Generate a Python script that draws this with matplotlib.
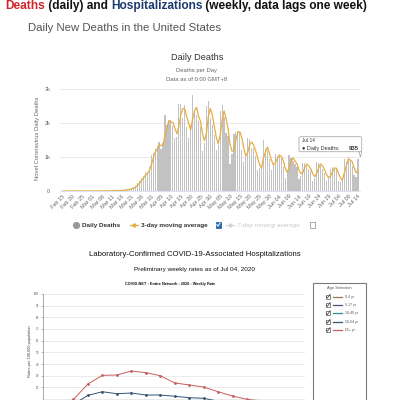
import matplotlib
matplotlib.use('Agg')
import matplotlib.pyplot as plt
import numpy as np
import pandas as pd
from matplotlib.patches import Rectangle, FancyBboxPatch

plt.rcParams['font.family'] = ['Liberation Sans', 'DejaVu Sans']

# ---------------- data ----------------
death_dates = pd.date_range('2020-02-15', '2020-07-14')
deaths_feb = [0] * 14 + [1]
deaths_mar = [1, 4, 1, 4, 1, 2, 3, 4, 4, 6, 8, 7, 11, 10, 12, 23, 26, 38, 53, 48,
              76, 117, 144, 240, 290, 380, 450, 560, 520, 700, 1050]
deaths_apr = [1120, 1250, 1320, 1450, 1250, 1400, 2221, 1954, 2045, 2082,
              1919, 1546, 1585, 2556, 2568, 2154, 2526, 1893, 1563, 1935,
              2811, 2342, 2236, 2055, 1871, 1162, 1401, 2496, 2633, 2161]
deaths_may = [1938, 1637, 1194, 1341, 2367, 2519, 2183, 1707, 1630, 793,
              1100, 1673, 1743, 1763, 1720, 1217, 849, 1009, 1547, 1528,
              1254, 1276, 1035, 622, 686, 717, 1500, 1221, 1175, 933, 629]
deaths_jun = [759, 1085, 1043, 1048, 975, 692, 377, 578, 1069, 969,
              896, 789, 720, 358, 446, 837, 820, 728, 651, 587,
              300, 381, 845, 813, 740, 633, 519, 301, 368, 640]
deaths_jul = [700, 680, 640, 280, 260, 380, 950, 860, 990, 880, 730, 460, 410, 935]
daily_deaths = deaths_feb + deaths_mar + deaths_apr + deaths_may + deaths_jun + deaths_jul

death_tick_labels = ['Feb 15', 'Feb 20', 'Feb 25', 'Mar 01', 'Mar 06', 'Mar 11', 'Mar 16',
                     'Mar 21', 'Mar 26', 'Mar 31', 'Apr 05', 'Apr 10', 'Apr 15', 'Apr 20',
                     'Apr 25', 'Apr 30', 'May 05', 'May 10', 'May 15', 'May 20', 'May 25',
                     'May 30', 'Jun 04', 'Jun 09', 'Jun 14', 'Jun 19', 'Jun 24', 'Jun 29',
                     'Jul 04', 'Jul 09', 'Jul 14']
death_yticks = [0, 1000, 2000, 3000]
death_ytick_labels = ['0', '1k', '2k', '3k']

weeks = list(range(10, 28))
rate_0_4 = [0.1, 0.3, 0.5, 0.7, 0.8, 0.7, 0.6, 0.6, 0.6, 0.5, 0.5, 0.5, 0.5, 0.6, 0.6, 0.7, 0.8, 0.7]
rate_5_17 = [0.0, 0.1, 0.1, 0.2, 0.2, 0.2, 0.2, 0.2, 0.2, 0.2, 0.2, 0.2, 0.2, 0.2, 0.3, 0.3, 0.3, 0.3]
rate_18_49 = [0.1, 0.7, 2.0, 4.3, 5.1, 4.8, 4.8, 4.4, 4.3, 3.9, 3.6, 3.5, 3.2, 3.0, 3.0, 3.1, 3.3, 3.0]
rate_50_64 = [0.2, 1.8, 5.5, 13.2, 16.3, 14.6, 15.2, 13.5, 13.5, 12.4, 11.2, 10.7, 8.2, 6.8, 5.5, 5.0, 4.8, 4.2]
rate_65 = [0.4, 3.2, 9.8, 22.9, 30.3, 30.6, 34.0, 32.6, 30.0, 23.8, 22.1, 20.3, 16.3, 12.6, 9.8, 8.5, 7.5, 6.0]
age_labels = ['0-4 yr', '5-17 yr', '18-49 yr', '50-64 yr', '65+ yr']
age_colors = ['#9a7b4f', '#5b4d6e', '#2f8c8c', '#34536f', '#c65f5f']
rate_grid = list(range(10, 101, 10))
rate_labeled = list(range(20, 101, 10))

# ---------------- figure ----------------
W, H = 397, 400
fig = plt.figure(figsize=(W / 100, H / 100), dpi=100)
fig.patch.set_facecolor('white')


def ax_rect(l, t, r, b):
    return [l / W, 1 - b / H, (r - l) / W, (b - t) / H]


# ---- Daily deaths chart ----
ax1 = fig.add_axes(ax_rect(60, 89, 360, 191))
xd = np.arange(len(daily_deaths))
ax1.bar(xd, daily_deaths, width=0.6, color='#c2c2c2', zorder=2)
ma3 = pd.Series(daily_deaths, dtype=float).rolling(3, min_periods=1).mean()
ax1.plot(xd, ma3, color='#e6ad42', lw=0.9, zorder=3)
ax1.set_xlim(-1.3, 151)
ax1.set_ylim(0, 3000)
ax1.set_yticks(death_yticks)
ax1.set_yticklabels(death_ytick_labels)
ax1.set_xticks(xd[::5])
ax1.set_xticklabels(death_tick_labels, rotation=45, ha='right', rotation_mode='anchor')
ax1.tick_params(axis='y', length=0, pad=7, labelsize=4, labelcolor='#666666')
ax1.tick_params(axis='x', length=0, pad=2, labelsize=4, labelcolor='#666666')
ax1.grid(axis='y', color='#e6e6e6', lw=0.6, zorder=0)
for s in ['top', 'right', 'left']:
    ax1.spines[s].set_visible(False)
ax1.spines['bottom'].set_color('#ccd6eb')
ax1.spines['bottom'].set_linewidth(0.5)

# ---- Hospitalization chart ----
ax2 = fig.add_axes(ax_rect(43.3, 293.8, 305, 293.8 + 117))
rates = [rate_0_4, rate_5_17, rate_18_49, rate_50_64, rate_65]
for r, c in zip(rates, age_colors):
    ax2.plot(weeks, r, color=c, lw=0.7, marker='o', ms=1.0, zorder=3)
ax2.set_xlim(9.917, 28.0)
ax2.set_ylim(0, 100)
ax2.set_yticks(rate_labeled)
ax2.set_yticklabels([str(v) for v in rate_labeled])
for v in rate_grid:
    ax2.axhline(v, color='#e2e2e2', lw=0.5, zorder=0)
ax2.tick_params(axis='y', length=1.5, width=0.4, pad=1.5, labelsize=2.2,
                labelcolor='#555555', color='#888888')
ax2.set_xticks([])
for s in ['top', 'right', 'bottom']:
    ax2.spines[s].set_visible(False)
ax2.spines['left'].set_color('#888888')
ax2.spines['left'].set_linewidth(0.5)

# ---- overlay in pixel coordinates ----
ov = fig.add_axes([0, 0, 1, 1], zorder=10)
ov.set_xlim(0, W)
ov.set_ylim(H, 0)
ov.axis('off')
ov.patch.set_alpha(0)

# headline with coloured words
renderer = fig.canvas.get_renderer()
pieces = [('Deaths', '#d0232a'), (' (daily) and ', '#111111'),
          ('Hospitalizations', '#1c3a6e'), (' (weekly, data lags one week)', '#111111')]
xpos = 5
for txt, col in pieces:
    t = ov.text(xpos, 6, txt, color=col, fontsize=8.6, fontweight='bold',
                va='center', ha='left')
    bb = t.get_window_extent(renderer=renderer)
    xpos += bb.width

ov.text(28, 28, 'Daily New Deaths in the United States', fontsize=8.2,
        color='#555555', va='center', ha='left')
ov.text(197, 57, 'Daily Deaths', fontsize=6.6, color='#333333', va='center', ha='center')
ov.text(197, 70.5, 'Deaths per Day', fontsize=4.2, color='#666666', va='center', ha='center')
ov.text(197, 79.3, 'Data as of 0:00 GMT+8', fontsize=4.2, color='#666666',
        va='center', ha='center')
ov.text(38, 138, 'Novel Coronavirus Daily Deaths', fontsize=4.2, color='#666666',
        rotation=90, va='center', ha='center')

# legend of deaths chart
ov.plot([76], [225], 'o', ms=4.2, color='#9a9a9a')
ov.text(82, 225, 'Daily Deaths', fontsize=4.6, fontweight='bold', color='#333333',
        va='center', ha='left')
ov.plot([130, 138], [225, 225], color='#e6ad42', lw=0.9)
ov.plot([134], [225], marker='D', ms=1.8, color='#e6ad42')
ov.text(141, 225, '3-day moving average', fontsize=4.6, fontweight='bold',
        color='#333333', va='center', ha='left')
ov.add_patch(Rectangle((215.5, 222), 5.5, 5.5, fc='#1f6fc0', ec='#1a4f8a', lw=0.5))
ov.plot([216.8, 218, 220], [224.6, 226.2, 223], color='white', lw=0.7)
ov.plot([226, 234], [225, 225], color='#d0d0d0', lw=0.8)
ov.plot([230], [225], marker='D', ms=1.6, color='#d0d0d0')
ov.text(237, 225, '7-day moving average', fontsize=4.6, color='#c8c8c8',
        style='italic', va='center', ha='left')
ov.add_patch(Rectangle((309.5, 222), 5.5, 5.5, fc='white', ec='#888888', lw=0.5))

# tooltip
ov.add_patch(FancyBboxPatch((299, 136.7), 62.7, 15, boxstyle='round,pad=0,rounding_size=1.5',
                            fc='white', ec='#a8a8a8', lw=0.6, alpha=0.95))
ov.plot([359, 360.5, 361.7], [151.7, 157, 151.7], color='#a8a8a8', lw=0.6)
ov.text(302, 141, 'Jul 14', fontsize=3.4, color='#333333', va='center', ha='left')
ov.text(302, 148.3, '\u25cf Daily Deaths: ', fontsize=4.0, color='#333333',
        va='center', ha='left')
ov.text(358.5, 148.3, '935', fontsize=4.2, fontweight='bold', color='#333333',
        va='center', ha='right')

# hospitalization titles
ov.text(195, 255, 'Laboratory-Confirmed COVID-19-Associated Hospitalizations',
        fontsize=5.6, color='#111111', va='center', ha='center')
ov.text(195, 269.3, 'Preliminary weekly rates as of Jul 04, 2020', fontsize=4.6,
        color='#111111', va='center', ha='center')
ov.text(170, 284.3, 'COVID-NET : Entire Network : 2020 : Weekly Rate', fontsize=2.8,
        fontweight='bold', color='#111111', va='center', ha='center')
ov.text(29.5, 351, 'Rates per 100,000 population', fontsize=2.9, color='#444444',
        rotation=90, va='center', ha='center')

# age selection legend box
ov.add_patch(Rectangle((313, 283), 53, 130, fc='white', ec='#7a7a7a', lw=0.8))
ov.text(339.5, 287.8, 'Age Selection', fontsize=2.9, color='#555555',
        va='center', ha='center')
entry_y = [296.7, 305, 313.3, 321.7, 330]
for yy, lab, col in zip(entry_y, age_labels, age_colors):
    ov.add_patch(Rectangle((325.5, yy - 2), 4, 4, fc='white', ec='#555555', lw=0.5))
    ov.plot([326.2, 327.5, 330.2], [yy, yy + 1.3, yy - 2.6], color='#333333', lw=0.5)
    ov.plot([332.7, 341.7], [yy, yy], color=col, lw=0.9)
    ov.text(345, yy, lab, fontsize=2.5, color='#555555', va='center', ha='left')

fig.savefig('out.png', dpi=100)
